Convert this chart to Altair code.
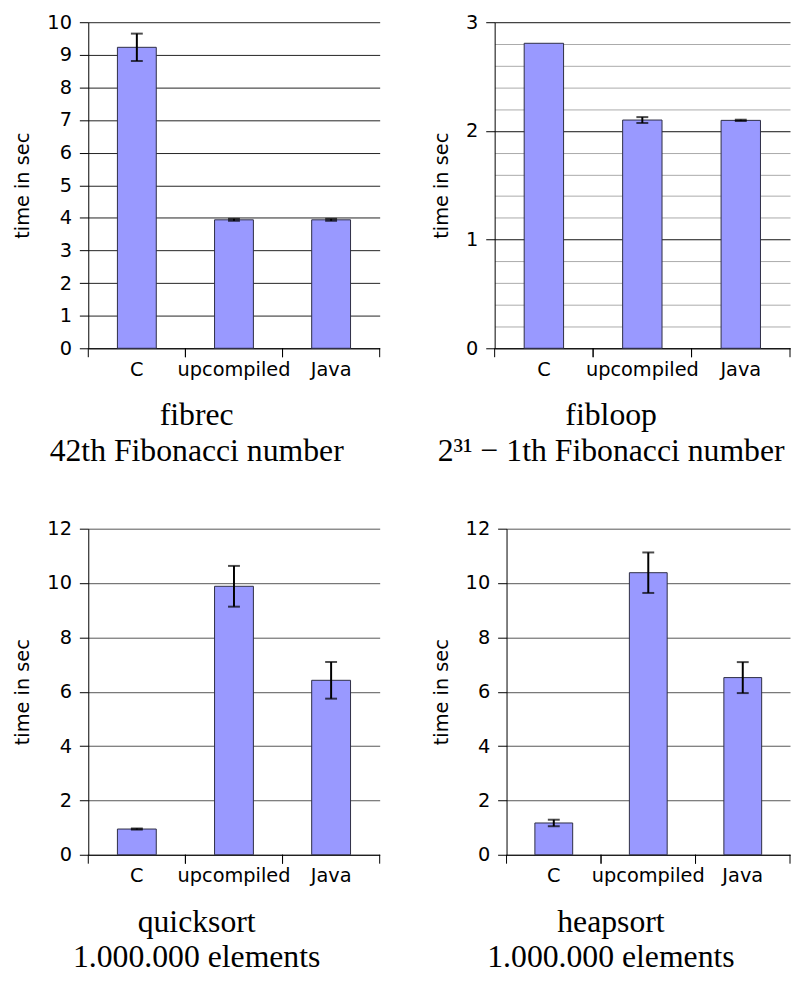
import altair as alt
import pandas as pd

categories = ["C", "upcompiled", "Java"]

fibrec_vals = [9.23, 3.94, 3.94]
fibrec_errs = [0.42, 0.03, 0.03]

fibloop_vals = [2.806, 2.10, 2.097]
fibloop_errs = [None, 0.027, 0.006]

quick_vals = [0.947, 9.88, 6.42]
quick_errs = [0.02, 0.75, 0.675]

heap_vals = [1.17, 10.38, 6.52]
heap_errs = [0.12, 0.745, 0.57]

fibrec_ticks = [0, 1, 2, 3, 4, 5, 6, 7, 8, 9, 10]
fibloop_ticks = [0, 0.2, 0.4, 0.6, 0.8, 1, 1.2, 1.4, 1.6, 1.8, 2, 2.2, 2.4, 2.6, 2.8, 3]
sort_ticks = [0, 2, 4, 6, 8, 10, 12]

captions = [
    ["fibrec", "42th Fibonacci number"],
    ["fibloop", "2\u00b3\u00b9 \u2212 1th Fibonacci number"],
    ["quicksort", "1.000.000 elements"],
    ["heapsort", "1.000.000 elements"],
]

SANS = "DejaVu Sans"
SERIF = "Liberation Serif"
FS = 19.5
H = 329


def panel(vals, errs, ticks, ymax, caption, width, grid_color, minor=False):
    df = pd.DataFrame({"cat": categories, "val": vals, "err": errs})
    edf = df.dropna(subset=["err"]).copy()
    edf["lo"] = edf["val"] - edf["err"]
    edf["hi"] = edf["val"] + edf["err"]

    xscale = alt.Scale(domain=categories, paddingInner=0, paddingOuter=0)
    yscale = alt.Scale(domain=[0, ymax], nice=False, zero=True)

    if minor:
        test = "abs(datum.value - round(datum.value)) < 0.001"
        gcol = {"condition": {"test": test, "value": "#111111"}, "value": "#aaaaaa"}
        topac = {"condition": {"test": test, "value": 1}, "value": 0}
        lexpr = "abs(datum.value - round(datum.value)) < 0.001 ? format(datum.value, 'd') : ''"
        yaxis = alt.Axis(values=ticks, title="time in sec", gridColor=gcol,
                         tickOpacity=topac, labelExpr=lexpr, labelOverlap=False)
    else:
        yaxis = alt.Axis(values=ticks, title="time in sec", gridColor=grid_color,
                         labelOverlap=False)

    xaxis = alt.Axis(title=None, ticks=False, tickSize=0, labelPadding=12,
                     labelAngle=0, grid=False)

    X = lambda **kw: alt.X("cat:N", sort=categories, scale=xscale, axis=xaxis, **kw)

    bars = alt.Chart(df).mark_bar(
        width=alt.RelativeBandSize(0.4), fill="#9999ff", stroke="#2e2e44",
        strokeWidth=1
    ).encode(
        x=X(),
        y=alt.Y("val:Q", scale=yscale, axis=yaxis),
    )

    rule = alt.Chart(edf).mark_rule(color="black", strokeWidth=2).encode(
        x=X(),
        y=alt.Y("lo:Q", scale=yscale, axis=yaxis),
        y2="hi:Q",
    )
    cap_lo = alt.Chart(edf).mark_tick(color="black", size=12, thickness=2).encode(
        x=X(), y=alt.Y("lo:Q", scale=yscale, axis=yaxis))
    cap_hi = alt.Chart(edf).mark_tick(color="black", size=12, thickness=2).encode(
        x=X(), y=alt.Y("hi:Q", scale=yscale, axis=yaxis))

    tick_a = alt.Chart(df).mark_rule(color="black", strokeWidth=1).encode(
        x=X(bandPosition=0),
        y=alt.value(H), y2=alt.value(H + 9))
    tick_b = alt.Chart(df).mark_rule(color="black", strokeWidth=1).encode(
        x=X(bandPosition=1),
        y=alt.value(H), y2=alt.value(H + 9))

    return alt.layer(bars, rule, cap_lo, cap_hi, tick_a, tick_b).properties(
        width=width, height=H,
        title=alt.TitleParams(
            text=caption, orient="bottom", anchor="middle", frame="bounds",
            font=SERIF, fontSize=32, fontWeight="normal", color="black",
            lineHeight=36, offset=22,
        ),
    )


p1 = panel(fibrec_vals, fibrec_errs, fibrec_ticks, 10, captions[0], 294, "#222222")
p2 = panel(fibloop_vals, fibloop_errs, fibloop_ticks, 3, captions[1], 298, "#111111", minor=True)
p3 = panel(quick_vals, quick_errs, sort_ticks, 12, captions[2], 294, "#555555")
p4 = panel(heap_vals, heap_errs, sort_ticks, 12, captions[3], 286, "#555555")

top = alt.hconcat(p1, p2, spacing=51)
bottom = alt.hconcat(p3, p4, spacing=51)

chart = alt.vconcat(top, bottom, spacing=52).properties(
    padding={"left": 5, "top": 0, "right": 0, "bottom": 0}
).configure_view(stroke=None).configure_axis(
    labelFont=SANS, labelFontSize=FS, labelColor="black",
    titleFont=SANS, titleFontSize=FS, titleFontWeight="normal", titleColor="black",
    domainColor="black", domainWidth=1, tickColor="black", tickSize=9,
    tickWidth=1, labelPadding=8, titlePadding=14, gridWidth=1, gridOpacity=1,
).configure_axisY(grid=True)

chart.save("out.html", embed_options={"renderer": "svg", "actions": False})
